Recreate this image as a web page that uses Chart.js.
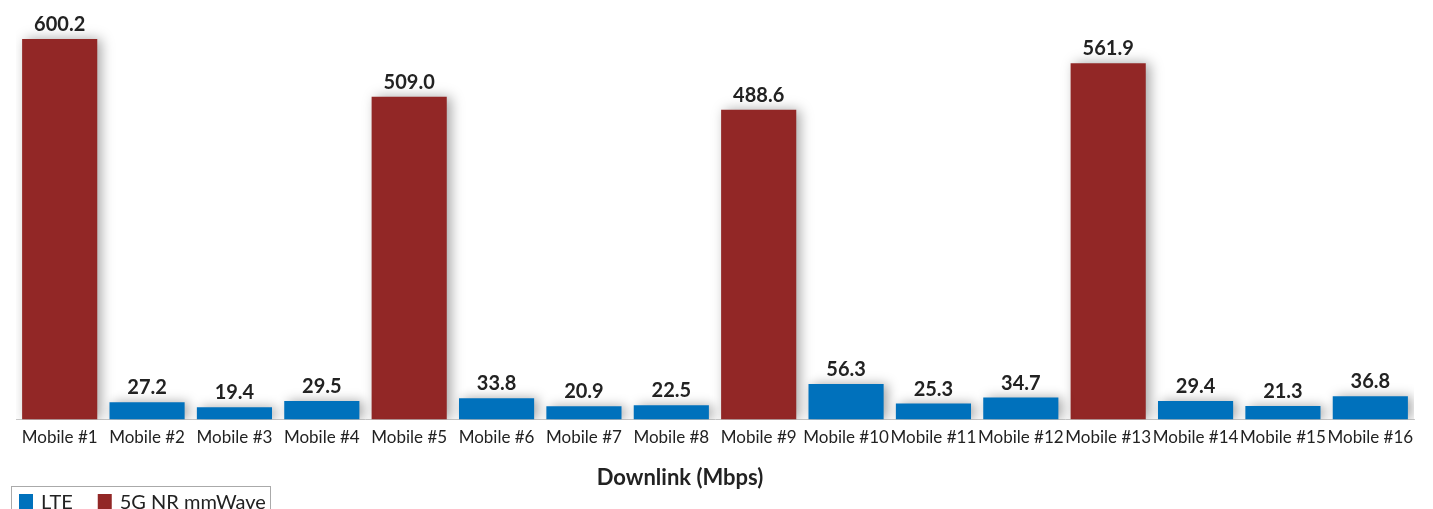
<!DOCTYPE html>
<html>
<head>
<meta charset="utf-8">
<script src="https://cdn.jsdelivr.net/npm/chart.js@4"></script>
<style>
  html, body { margin: 0; padding: 0; background: #fff; }
  #wrap { position: relative; width: 1433px; height: 509px; }
</style>
</head>
<body>
<div id="wrap"><canvas id="c" width="1433" height="509"></canvas></div>
<script>
// Downlink throughput per handset (Mbps)
const categories = ["Mobile #1","Mobile #2","Mobile #3","Mobile #4","Mobile #5","Mobile #6","Mobile #7","Mobile #8",
                    "Mobile #9","Mobile #10","Mobile #11","Mobile #12","Mobile #13","Mobile #14","Mobile #15","Mobile #16"];
const lteValues    = [null, 27.2, 19.4, 29.5, null, 33.8, 20.9, 22.5, null, 56.3, 25.3, 34.7, null, 29.4, 21.3, 36.8];
const mmWaveValues = [600.2, null, null, null, 509.0, null, null, null, 488.6, null, null, null, 561.9, null, null, null];
const seriesNames  = ["LTE", "5G NR mmWave"];
const axisTitle    = "Downlink (Mbps)";

const BLUE = "#0071BC";
const RED  = "#922726";
const TEXT = "#222222";
const FONT = "Lato, 'Open Sans', sans-serif";

// soft shadow behind every bar
const barShadow = {
  id: "barShadow",
  beforeDatasetsDraw(chart) {
    const ctx = chart.ctx;
    ctx.save();
    ctx.shadowColor = "rgba(0,0,0,0.35)";
    ctx.shadowBlur = 12;
    ctx.shadowOffsetX = 4;
    ctx.shadowOffsetY = 0;
  },
  afterDatasetsDraw(chart) {
    chart.ctx.restore();
  }
};

// value above each bar
const valueLabels = {
  id: "valueLabels",
  afterDatasetsDraw(chart) {
    const ctx = chart.ctx;
    ctx.save();
    ctx.font = "bold 20px " + FONT;
    ctx.fillStyle = TEXT;
    ctx.textAlign = "center";
    ctx.textBaseline = "alphabetic";
    chart.data.datasets.forEach((ds, di) => {
      const meta = chart.getDatasetMeta(di);
      meta.data.forEach((bar, i) => {
        const v = ds.data[i];
        if (v === null || v === undefined) return;
        ctx.fillText(v.toFixed(1), bar.x, bar.y - 8);
      });
    });
    ctx.restore();
  }
};

// axis title and boxed legend under the chart
const footer = {
  id: "footer",
  afterDraw(chart) {
    const ctx = chart.ctx;
    ctx.save();
    ctx.font = "bold 22px " + FONT;
    ctx.fillStyle = TEXT;
    ctx.textAlign = "center";
    ctx.textBaseline = "middle";
    ctx.fillText(axisTitle, 680, 478);

    // legend box
    ctx.strokeStyle = "#aaaaaa";
    ctx.lineWidth = 1;
    ctx.strokeRect(11.5, 486.5, 259, 30);
    ctx.font = "20px " + FONT;
    ctx.textAlign = "left";
    ctx.textBaseline = "alphabetic";
    let x = 19;
    chart.data.datasets.forEach((ds, i) => {
      ctx.fillStyle = ds.backgroundColor;
      ctx.fillRect(x, 494, 14, 15);
      ctx.fillStyle = TEXT;
      ctx.fillText(ds.label, x + 22, 509);
      x += 22 + ctx.measureText(ds.label).width + 25;
    });
    ctx.restore();
  }
};

new Chart(document.getElementById("c"), {
  type: "bar",
  data: {
    labels: categories,
    datasets: [
      { label: seriesNames[0], data: lteValues, backgroundColor: BLUE, categoryPercentage: 1, barPercentage: 0.86 },
      { label: seriesNames[1], data: mmWaveValues, backgroundColor: RED, categoryPercentage: 1, barPercentage: 0.86 }
    ]
  },
  options: {
    responsive: false,
    animation: false,
    layout: { padding: { left: 16, right: 19, top: 1, bottom: 53 } },
    plugins: {
      legend: { display: false },
      tooltip: { enabled: false }
    },
    datasets: { bar: { grouped: false } },
    scales: {
      x: {
        grid: { display: false, drawTicks: false },
        border: { display: true, color: "#c8c8c8", width: 1 },
        ticks: { color: TEXT, font: { family: FONT, size: 17 }, padding: 8, maxRotation: 0, autoSkip: false }
      },
      y: {
        display: false,
        min: 0,
        max: 660
      }
    }
  },
  plugins: [barShadow, valueLabels, footer]
});
</script>
</body>
</html>
